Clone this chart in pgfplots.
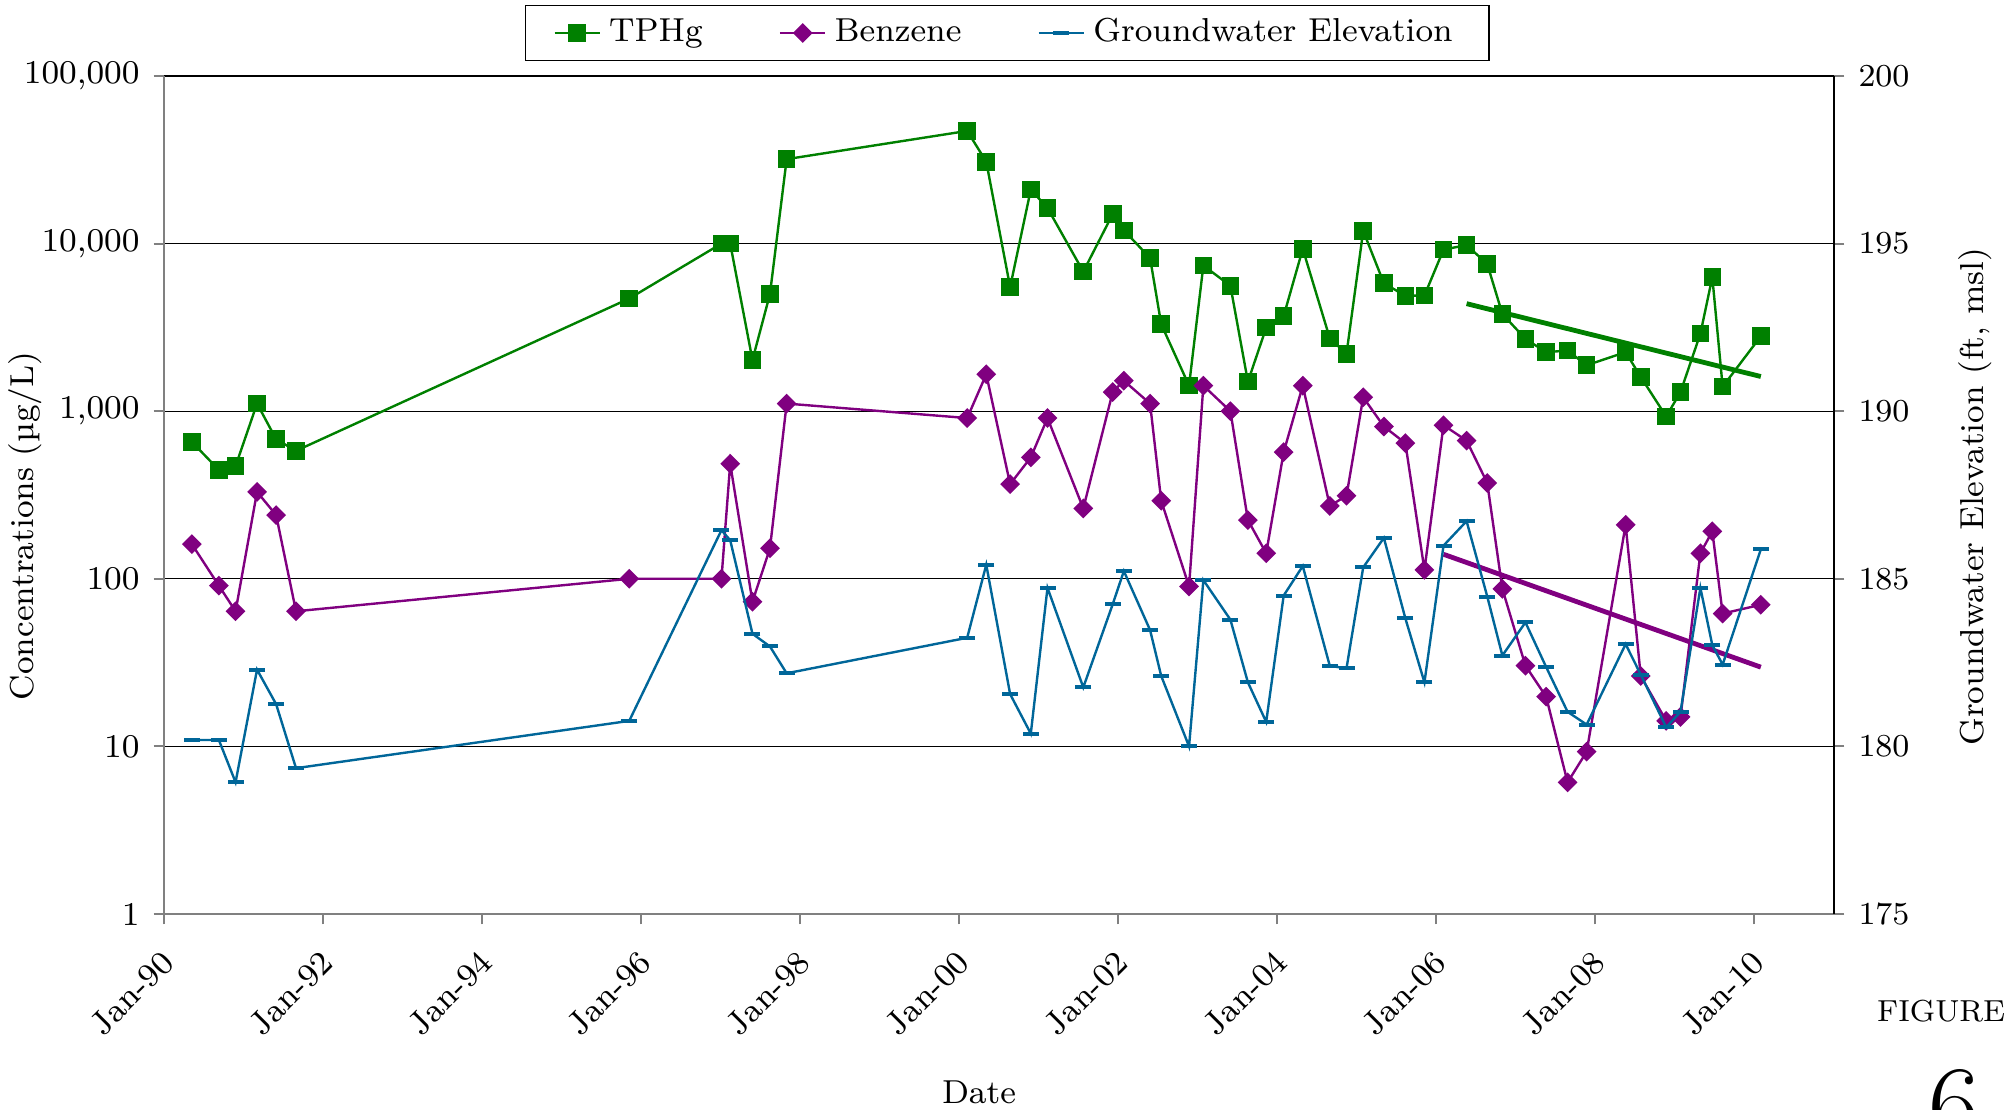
\documentclass[border=0pt]{standalone}
\usepackage{fontspec}
\usepackage{pgfplots}
\pgfplotsset{compat=1.18}
\definecolor{tphg}{RGB}{0,128,0}
\definecolor{benz}{RGB}{128,0,128}
\definecolor{gw}{RGB}{0,102,153}
\definecolor{axgray}{RGB}{128,128,128}
\newcommand{\fs}{\fontsize{8.3}{10}\selectfont}
\pgfplotsset{
  tphgstyle/.style={color=tphg, line width=0.6pt, mark=square*, mark size=1.9pt, mark options={solid}},
  benzstyle/.style={color=benz, line width=0.6pt, mark=square*, mark size=1.45pt, mark options={solid, rotate=45}},
  gwstyle/.style={color=gw, line width=0.6pt, mark=-, mark size=2pt, mark options={solid, line width=1pt}},
  common/.style={
    scale only axis, width=417.5pt, height=209.5pt,
    xmin=1990, xmax=2011,
    tick align=outside, major tick length=2.6pt,
    tick label style={font=\fs},
    minor tick style={draw=none},
  }
}
\begin{document}
\begin{tikzpicture}
\useasboundingbox (-41pt,-49pt) rectangle (460.75pt,228.5pt);
\begin{axis}[common,
  ymode=log, ymin=1, ymax=100000,
  axis x line*=bottom, axis y line*=left,
  axis line style={axgray, line width=0.5pt},
  tick style={axgray, line width=0.5pt},
  xtick={1990,1992,1994,1996,1998,2000,2002,2004,2006,2008,2010},
  xticklabels={Jan-90,Jan-92,Jan-94,Jan-96,Jan-98,Jan-00,Jan-02,Jan-04,Jan-06,Jan-08,Jan-10},
  ytick={1,10,100,1000,10000,100000},
  yticklabels={1,10,100,{1,000},{10,000},{100,000}},
  ymajorgrids, major grid style={black, line width=0.3pt},
  xticklabel style={rotate=45, anchor=east, xshift=-1.5pt, yshift=-6.5pt},
]
\addplot[tphgstyle] coordinates {
(1990.35,656)(1990.69,446)(1990.90,470)(1991.17,1110)(1991.41,680)(1991.66,580)
(1995.85,4700)(1997.01,10000)(1997.12,10000)(1997.40,2020)(1997.62,5000)(1997.83,31900)
(2000.10,47000)(2000.34,30800)(2000.64,5500)(2000.90,21000)(2001.11,16300)(2001.56,6800)
(2001.93,15000)(2002.07,12000)(2002.40,8200)(2002.54,3300)(2002.89,1420)(2003.07,7400)
(2003.41,5600)(2003.63,1500)(2003.86,3150)(2004.08,3700)(2004.32,9300)(2004.66,2720)
(2004.87,2200)(2005.08,11900)(2005.34,5800)(2005.61,4880)(2005.85,4900)(2006.09,9200)
(2006.38,9800)(2006.64,7550)(2006.83,3800)(2007.12,2700)(2007.38,2250)(2007.65,2300)
(2007.89,1880)(2008.38,2250)(2008.57,1600)(2008.89,930)(2009.07,1300)(2009.32,2900)
(2009.47,6300)(2009.60,1400)(2010.08,2800)
};
\addplot[benzstyle] coordinates {
(1990.35,161)(1990.69,91)(1990.90,64)(1991.17,330)(1991.41,240)(1991.66,64)
(1995.85,100)(1997.01,100)(1997.12,486)(1997.40,73)(1997.62,152)(1997.83,1110)
(2000.10,910)(2000.34,1660)(2000.64,367)(2000.90,530)(2001.11,910)(2001.56,263)
(2001.93,1300)(2002.07,1520)(2002.40,1110)(2002.54,292)(2002.89,90)(2003.07,1420)
(2003.41,1000)(2003.63,224)(2003.86,142)(2004.08,570)(2004.32,1420)(2004.66,272)
(2004.87,313)(2005.08,1210)(2005.34,810)(2005.61,645)(2005.85,113)(2006.09,825)
(2006.38,667)(2006.64,373)(2006.83,87)(2007.12,30.3)(2007.38,19.8)(2007.65,6.1)
(2007.89,9.3)(2008.38,210)(2008.57,26.3)(2008.89,14.2)(2009.07,15)(2009.32,142)
(2009.47,192)(2009.60,62)(2010.08,70)
};
\addplot[color=tphg, line width=1.2pt, no marks] coordinates {(2006.38,4380)(2010.08,1610)};
\addplot[color=benz, line width=1.2pt, no marks] coordinates {(2006.09,140)(2010.08,29.7)};
\end{axis}
\begin{axis}[common,
  ymin=175, ymax=200,
  axis x line=none, axis y line*=right,
  axis line style={black, line width=0.5pt},
  tick style={axgray, line width=0.5pt},
  ytick={175,180,185,190,195,200},
  legend columns=3,
  legend style={at={(0.5048,1.0513)}, anchor=center, draw=black, line width=0.4pt,
    font=\fs, inner xsep=7pt, inner ysep=1.2pt,
    /tikz/every even column/.append style={column sep=17pt}},
  legend image code/.code={\draw[mark repeat=2, mark phase=2] plot coordinates {(0cm,0cm)(0.2cm,0cm)(0.4cm,0cm)};},
]
\addlegendimage{tphgstyle}
\addlegendentry{TPHg}
\addlegendimage{benzstyle}
\addlegendentry{Benzene}
\addplot[gwstyle] coordinates {
(1990.35,180.19)(1990.69,180.19)(1990.90,178.93)(1991.17,182.29)(1991.41,181.26)(1991.66,179.35)
(1995.85,180.76)(1997.01,186.45)(1997.12,186.15)(1997.40,183.36)(1997.62,182.98)(1997.83,182.18)
(2000.10,183.24)(2000.34,185.42)(2000.64,181.56)(2000.90,180.38)(2001.11,184.73)(2001.56,181.76)
(2001.93,184.24)(2002.07,185.23)(2002.40,183.47)(2002.54,182.10)(2002.89,180.0)(2003.07,184.96)
(2003.41,183.78)(2003.63,181.91)(2003.86,180.73)(2004.08,184.50)(2004.32,185.38)(2004.66,182.40)
(2004.87,182.33)(2005.08,185.34)(2005.34,186.22)(2005.61,183.82)(2005.85,181.91)(2006.09,185.99)
(2006.38,186.72)(2006.64,184.47)(2006.83,182.71)(2007.12,183.70)(2007.38,182.37)(2007.65,181.03)
(2007.89,180.65)(2008.38,183.05)(2008.57,182.14)(2008.89,180.57)(2009.07,181.03)(2009.32,184.73)
(2009.47,183.02)(2009.60,182.44)(2010.08,185.88)
};
\addlegendentry{Groundwater Elevation}
\end{axis}
\node[rotate=90, font=\fs] at (-34.6pt,97pt) {Concentrations (µg/L)};
\node[rotate=90, font=\fs] at (452.75pt,104.3pt) {Groundwater Elevation (ft, msl)};
\node[font=\fs] at (203.75pt,-44.5pt) {Date};
\node[font=\fontsize{7.6}{9}\selectfont, anchor=east, inner sep=0pt] at (460.5pt,-24.3pt) {FIGURE};
\node[font=\fontsize{28}{30}\selectfont, anchor=north, inner sep=0pt] at (447.5pt,-38.7pt) {6};
\end{tikzpicture}
\end{document}
